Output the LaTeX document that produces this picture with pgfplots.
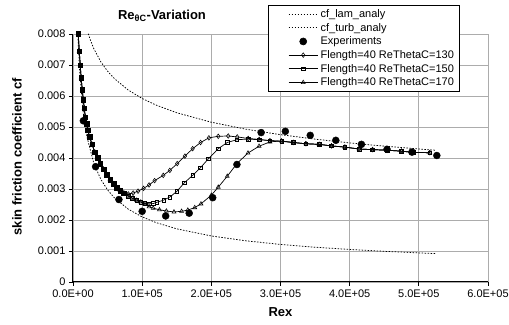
\documentclass[border=0pt]{standalone}
\usepackage{fontspec}
\setmainfont{Liberation Sans}
\usepackage{pgfplots}
\pgfplotsset{compat=1.18}
\pgfplotsset{
  linelegend/.style={legend image code/.code={\path (-17pt,0pt); \draw[mark repeat=2,mark phase=2,##1] plot coordinates {(0pt,0pt) (14.5pt,0pt) (29pt,0pt)};}},
  marklegend/.style={legend image code/.code={\path (-17pt,0pt) (29pt,0pt); \draw[##1] plot coordinates {(14.5pt,0pt)};}},
}

\begin{document}
\begin{tikzpicture}
\begin{axis}[
  scale only axis, width=415pt, height=248pt,
  xmin=0, xmax=600000, ymin=0, ymax=0.008,
  xtick={0,100000,200000,300000,400000,500000,600000},
  xticklabels={0.0E+00,1.0E+05,2.0E+05,3.0E+05,4.0E+05,5.0E+05,6.0E+05},
  ytick={0,0.001,0.002,0.003,0.004,0.005,0.006,0.007,0.008},
  yticklabels={0,0.001,0.002,0.003,0.004,0.005,0.006,0.007,0.008},
  scaled x ticks=false, scaled y ticks=false,
  /pgf/number format/assume math mode=true,
  grid=major, major grid style={gray!65, line width=0.8pt},
  axis lines*=left, axis line style={-, black, line width=1pt},
  tick align=outside, major tick length=4pt, tick style={black, line width=0.8pt},
  tick pos=left,
  tick label style={font=\fontsize{11}{13}\selectfont},
  xlabel={Rex}, ylabel={skin friction coefficient cf},
  label style={font=\fontsize{13}{15}\selectfont\bfseries},
  xlabel style={at={(axis description cs:0.5,-0.121)}, anchor=center},
  ylabel style={at={(axis description cs:-0.135,0.506)}, anchor=center},
  title={Re\textsubscript{θC}-Variation},
  title style={at={(axis description cs:0.2145,1.048)}, anchor=center, font=\fontsize{13}{15}\selectfont\bfseries},
  legend cell align=left,
  legend style={at={(axis description cs:0.47,1.117)}, anchor=north west,
    draw=black, line width=0.6pt, fill=white, font=\fontsize{11}{13}\selectfont,
    nodes={inner ysep=2.1pt, inner xsep=2.5pt}, row sep=0pt},
  linelegend,
]
\coordinate (sw) at (rel axis cs:0,0);
\coordinate (ne) at (rel axis cs:1,1);

% laminar analytic
\addplot[black, line width=0.75pt, dash pattern=on 1.5pt off 1.5pt] coordinates {
(7000,0.007936) (10000,0.00664) (15000,0.005422) (20000,0.004695) (30000,0.003834)
(40000,0.00332) (50000,0.00297) (60000,0.002711) (80000,0.002348) (100000,0.0021)
(120000,0.001917) (150000,0.001714) (200000,0.001485) (250000,0.001328) (300000,0.001212)
(350000,0.001122) (400000,0.00105) (450000,0.00099) (500000,0.000939) (525000,0.000916)};
\addlegendentry{cf\_lam\_analy}

% turbulent analytic
\addplot[black, line width=0.75pt, dash pattern=on 1.5pt off 1.5pt] coordinates {
(22000,0.00801) (25000,0.007812) (30000,0.007532) (40000,0.00711) (50000,0.0068)
(60000,0.006557) (80000,0.00619) (100000,0.00592) (120000,0.005708) (150000,0.005459)
(200000,0.005154) (250000,0.004929) (300000,0.004752) (350000,0.004608) (400000,0.004487)
(450000,0.004382) (500000,0.004291) (525000,0.004249)};
\addlegendentry{cf\_turb\_analy}

% experiments
\addplot[only marks, mark=*, mark size=3.5pt, black, marklegend] coordinates {
(15000,0.00520) (32700,0.00372) (66400,0.00266) (100000,0.00228) (134000,0.00213)
(168000,0.00222) (202000,0.00272) (237000,0.00379) (272000,0.00482) (307000,0.00486)
(343000,0.00473) (380000,0.00457) (417000,0.00444) (454000,0.00428) (490000,0.00419)
(526000,0.00408)};
\addlegendentry{Experiments}

% ReThetaC = 130
\addplot[black, line width=0.7pt, mark=diamond, mark size=2.3pt, mark options={solid, fill=white, line width=0.55pt}] coordinates {
(7600,0.00800) (9100,0.00744) (10500,0.00699) (11800,0.00659) (13400,0.00620)
(14900,0.00588) (16300,0.00561) (17800,0.00532) (19500,0.00510) (21500,0.00490)
(24000,0.00468) (27500,0.00444) (31500,0.00419) (35500,0.00400) (39500,0.00382)
(44000,0.00364) (48500,0.00346) (53500,0.00330) (58500,0.00317) (63000,0.00305)
(68000,0.00295) (73500,0.00287) (80000,0.00284) (87000,0.00287) (94000,0.00293)
(102000,0.00302) (110000,0.00313) (118000,0.00327) (130500,0.00344) (140000,0.00360)
(150700,0.00382) (161800,0.00406) (173000,0.00430) (184500,0.00450) (196500,0.00465)
(210000,0.00470) (224400,0.00471) (237400,0.00468) (253300,0.00463) (269200,0.00460)
(284700,0.00456) (301600,0.00454) (318400,0.00450) (336700,0.00446) (355900,0.00444)
(373800,0.00439) (393100,0.00435) (413700,0.00429) (433100,0.00427) (454200,0.00425)
(475000,0.00422) (491800,0.00418) (515900,0.00417)};
\addlegendentry{Flength=40 ReThetaC=130}

% ReThetaC = 150
\addplot[black, line width=0.7pt, mark=square, mark size=1.8pt, mark options={solid, fill=white, line width=0.55pt}] coordinates {
(7600,0.00800) (9100,0.00744) (10500,0.00699) (11800,0.00659) (13400,0.00620)
(14900,0.00588) (16300,0.00561) (17800,0.00532) (19500,0.00510) (21500,0.00490)
(24000,0.00468) (27500,0.00444) (31500,0.00419) (35500,0.00400) (39500,0.00382)
(44000,0.00364) (48500,0.00346) (53500,0.00330) (58500,0.00317) (63000,0.00305)
(68000,0.00295) (73500,0.00287) (80000,0.00277) (86000,0.00270) (92000,0.00264)
(98000,0.00258) (104000,0.00253) (110000,0.00252) (116000,0.00253) (121000,0.00257)
(131000,0.00264) (140000,0.00274) (150000,0.00292) (161000,0.00320) (173000,0.00344)
(184000,0.00368) (196000,0.00398) (210000,0.00430) (223000,0.00450) (237000,0.00459)
(253000,0.00461) (269000,0.00459) (284700,0.00456) (301600,0.00454) (318400,0.00450)
(336700,0.00446) (355900,0.00444) (373800,0.00439) (393100,0.00435) (413700,0.00429)
(433100,0.00427) (454200,0.00425) (475000,0.00422) (491800,0.00418) (515900,0.00417)};
\addlegendentry{Flength=40 ReThetaC=150}

% ReThetaC = 170
\addplot[black, line width=0.7pt, mark=triangle, mark size=2.3pt, mark options={solid, fill=white, line width=0.55pt}] coordinates {
(7600,0.00800) (9100,0.00744) (10500,0.00699) (11800,0.00659) (13400,0.00620)
(14900,0.00588) (16300,0.00561) (17800,0.00532) (19500,0.00510) (21500,0.00490)
(24000,0.00468) (27500,0.00444) (31500,0.00419) (35500,0.00400) (39500,0.00382)
(44000,0.00364) (48500,0.00346) (53500,0.00330) (58500,0.00317) (63000,0.00305)
(68000,0.00295) (73500,0.00287) (80000,0.00277) (86000,0.00270) (92000,0.00264)
(98000,0.00258) (104000,0.00250) (110000,0.00243) (116000,0.00238) (125000,0.00233)
(135000,0.00229) (146000,0.00226) (157000,0.00228) (166000,0.00232) (176000,0.00240)
(185000,0.00252) (200000,0.00280) (210000,0.00306) (223000,0.00341) (237000,0.00382)
(253000,0.00416) (269000,0.00438) (284700,0.00452) (301600,0.00455) (318400,0.00450)
(336700,0.00446) (355900,0.00444) (373800,0.00439) (393100,0.00435) (413700,0.00429)
(433100,0.00427) (454200,0.00425) (475000,0.00422) (491800,0.00418) (515900,0.00417)};
\addlegendentry{Flength=40 ReThetaC=170}

% overlapping markers of the common laminar part
\addplot[forget plot, only marks, mark=square*, mark size=2.3pt, black] coordinates {
(7600,0.00800) (9100,0.00744) (10500,0.00699) (11800,0.00659) (13400,0.00620)
(14900,0.00588) (16300,0.00561) (17800,0.00532) (19500,0.00510) (21500,0.00490)
(24000,0.00468) (27500,0.00444) (31500,0.00419) (35500,0.00400) (39500,0.00382)
(44000,0.00364) (48500,0.00346) (53500,0.00330) (58500,0.00317) (63000,0.00305)
(68000,0.00295) (73500,0.00287)};
\end{axis}
\pgfresetboundingbox
\path ([shift={(-73pt,-43pt)}]sw) rectangle ([shift={(21pt,34pt)}]ne);
\end{tikzpicture}
\end{document}
